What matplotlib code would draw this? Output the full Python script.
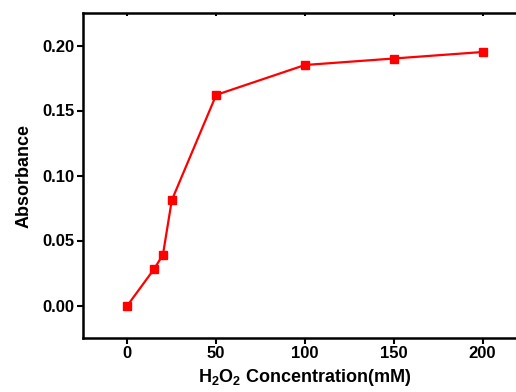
import matplotlib
matplotlib.use("Agg")
import matplotlib.pyplot as plt

conc = [0, 15, 20, 25, 50, 100, 150, 200]
absorbance = [0.0, 0.028, 0.039, 0.081, 0.162, 0.185, 0.190, 0.195]
xticks = [0, 50, 100, 150, 200]
yticks = [0.00, 0.05, 0.10, 0.15, 0.20]

plt.rcParams['font.family'] = ['Liberation Sans', 'DejaVu Sans']
plt.rcParams['font.weight'] = 'bold'
plt.rcParams['mathtext.fontset'] = 'custom'
plt.rcParams['mathtext.rm'] = 'Liberation Sans:bold'
plt.rcParams['mathtext.bf'] = 'Liberation Sans:bold'
plt.rcParams['mathtext.default'] = 'bf'

fig = plt.figure(figsize=(5.16, 3.92), dpi=100)
ax = fig.add_axes([83 / 516, 54 / 392, 444 / 516, 325 / 392])

ax.plot(conc, absorbance, color='#ff0000', lw=1.6, marker='s', ms=5.5, clip_on=False)

ax.set_xlim(-25, 225)
ax.set_ylim(-0.025, 0.225)
ax.set_xticks(xticks)
ax.set_yticks(yticks)
ax.set_yticklabels(['%.2f' % v for v in yticks])
ax.tick_params(axis='both', direction='out', length=4, width=1.5, labelsize=12, pad=2)
# faint inward ticks on the top spine
ax.tick_params(axis='x', top=True, labeltop=False)
for t in ax.xaxis.get_major_ticks():
    t.tick2line.set_marker(3)
    t.tick2line.set_markersize(2)
    t.tick2line.set_color('#888888')

for side in ax.spines.values():
    side.set_linewidth(1.8)

ax.set_xlabel(r'H$_2$O$_2$ Concentration(mM)', fontsize=13, fontweight='bold', labelpad=4)
ax.set_ylabel('Absorbance', fontsize=13, fontweight='bold', labelpad=7)

fig.savefig('out.png', dpi=100)
